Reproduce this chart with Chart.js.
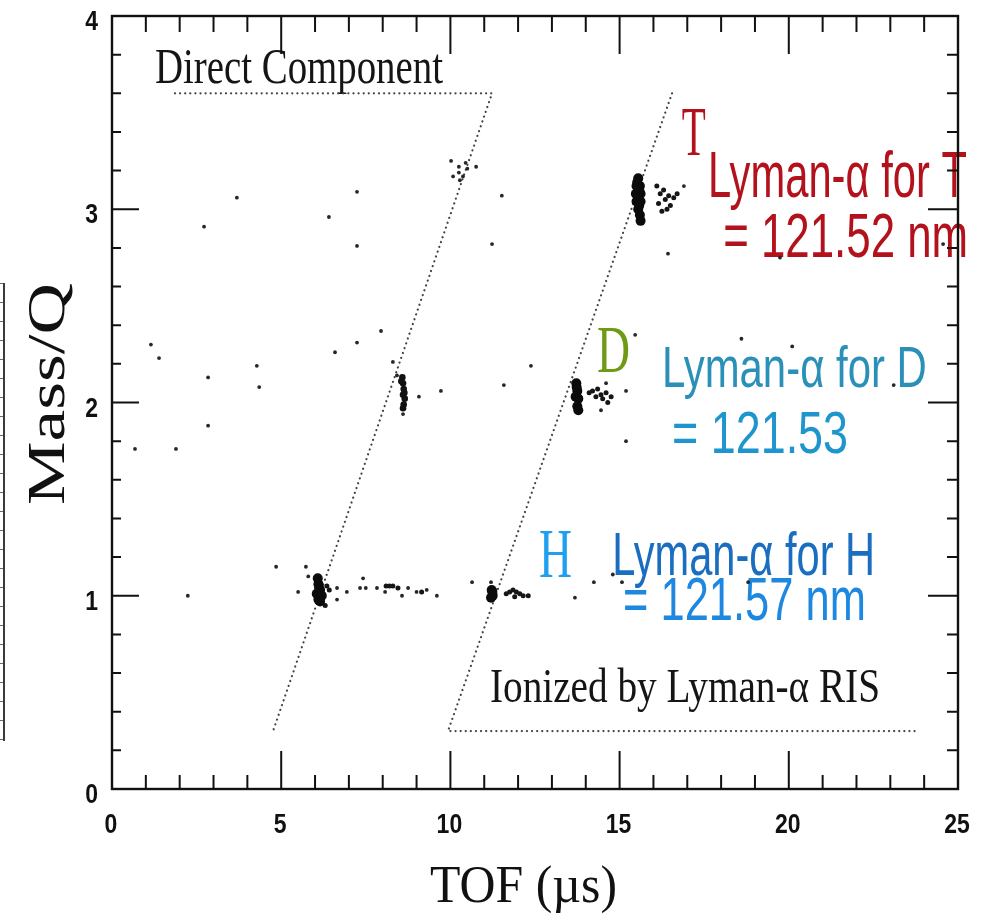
<!DOCTYPE html>
<html>
<head>
<meta charset="utf-8">
<title>TOF vs Mass/Q</title>
<script src="https://cdn.jsdelivr.net/npm/chart.js@4.4.1/dist/chart.umd.min.js"></script>
<style>
  html, body { margin: 0; padding: 0; background: #fff; }
  #wrap { position: relative; width: 990px; height: 924px; }
  canvas { display: block; }
  /* edge of the neighbouring panel */
  #edge { position: absolute; left: 0; top: 283px; width: 3px; height: 458px;
          border-right: 2px solid #3a3a3a;
          background: repeating-linear-gradient(to bottom, #666 0 1px, transparent 1px 19px); }
</style>
</head>
<body>
<div id="wrap">
  <canvas id="c" width="990" height="924"></canvas>
  <div id="edge"></div>
</div>
<script>
// ---- axes ----
const tofTicks  = [0, 5, 10, 15, 20, 25];
const massTicks = [0, 1, 2, 3, 4];

// ---- isolated single-ion hits ----
const hitTOF = [2.72, 3.69, 7.24, 6.41, 7.24, 11.23, 11.52,
  10.02, 10.25, 10.25, 10.76, 10.5, 10.08, 10.28, 10.37, 10.45,
  16.43, 19.74, 16.9, 24.56,
  1.15, 1.39, 2.84, 4.28, 4.35, 2.84, 0.68, 1.89,
  6.59, 7.24, 7.95, 8.30, 8.42, 9.07, 9.72, 8.6,
  11.58, 12.38, 15.19, 15.19, 15.46, 18.6, 20.1, 23.1, 14.45, 14.6,
  2.24, 4.85, 5.73, 5.8, 5.5, 6.65, 6.65, 6.94, 7.42, 7.33, 7.5, 7.83, 8.07, 8.57, 8.75, 9.0, 9.3, 9.6,
  10.64, 11.2, 13.68, 14.24, 14.8, 15.07, 18.8];
const hitMQ = [2.91, 3.06, 3.09, 2.96, 2.81, 2.82, 3.07,
  3.25, 3.22, 3.19, 3.22, 3.21, 3.17, 3.15, 3.17, 3.24,
  2.77, 2.75, 3.12, 2.82,
  2.30, 2.23, 2.13, 2.19, 2.08, 1.88, 1.76, 1.76,
  2.26, 2.31, 2.37, 2.21, 2.14, 2.03, 2.06, 1.94,
  2.09, 2.19, 2.06, 1.80, 2.35, 2.33, 2.29, 2.09, 1.96, 2.10,
  1.00, 1.15, 1.15, 1.10, 1.02, 0.98, 1.04, 1.02, 1.09, 1.04, 1.04, 1.04, 1.02, 1.00, 1.04, 1.02, 1.03, 1.00,
  1.07, 1.07, 0.99, 1.07, 1.11, 1.07, 1.07];

// ---- hit streaks trailing each peak ----
const tailTOF = [8.1, 8.2, 8.3, 8.45, 9.15, 6.35, 6.42, 6.3,
  11.65, 11.75, 11.85, 11.95, 12.05, 12.15, 12.3, 11.9,
  14.1, 14.2, 14.3, 14.35, 14.45, 14.5, 14.6, 14.65, 14.75,
  16.1, 16.2, 16.15, 16.3, 16.35, 16.45, 16.5, 16.6, 16.7, 16.4, 16.25];
const tailMQ = [1.05, 1.05, 1.05, 1.04, 1.02, 1.05, 1.03, 0.95,
  1.01, 1.02, 1.03, 1.02, 1.01, 1.00, 1.00, 0.995,
  2.05, 2.06, 2.03, 2.07, 2.04, 2.02, 2.05, 2.00, 2.03,
  3.12, 3.08, 3.03, 3.10, 3.05, 3.07, 3.02, 3.06, 3.08, 3.00, 2.99];

// ---- narrow D peak of the direct component ----
const streakTOF = [8.58, 8.6, 8.62, 8.6, 8.65, 8.62, 8.6, 8.55, 8.64];
const streakMQ  = [2.13, 2.10, 2.07, 2.04, 2.02, 1.99, 1.97, 2.11, 2.05];

// ---- dense peak cores (T, D, H) ----
const coreTOF = [15.55, 15.5, 15.6, 15.48, 15.62, 15.5, 15.62, 15.55, 15.6, 15.62,
  15.52, 15.58, 15.55, 15.58,
  13.72, 13.75, 13.7, 13.78, 13.75, 13.78, 13.73,
  11.22, 11.25, 11.2, 11.24,
  6.1, 6.15, 6.05, 6.2, 6.1, 6.15, 6.08, 6.12];
const coreMQ = [3.16, 3.12, 3.12, 3.08, 3.08, 3.04, 3.04, 3.00, 2.97, 2.94,
  3.14, 3.10, 3.06, 3.02,
  2.10, 2.06, 2.03, 2.02, 1.98, 1.96, 2.08,
  1.03, 1.00, 0.99, 1.02,
  1.06, 1.03, 1.01, 1.00, 0.98, 0.97, 1.09, 1.04];

// ---- region boundaries ----
const directTOF = [1.86, 11.23, 4.76];
const directMQ  = [3.6, 3.6, 0.3];
const risTOF    = [16.55, 9.93, 23.82];
const risMQ     = [3.6, 0.3, 0.3];

const pts = (xs, ys) => xs.map((x, i) => ({ x, y: ys[i] }));

// ---- text labels (anchored at left/baseline, in data units) ----
const SERIF = '"Liberation Serif", "Times New Roman", serif';
const SANS  = '"Liberation Sans", Arial, sans-serif';
const notes = [
  { text: 'Direct Component',        tof: 1.27,  mq: 3.653, w: 288, cap: 33, fam: SERIF, color: '#151515' },
  { text: 'Ionized by Lyman-\u03B1 RIS', tof: 11.17, mq: 0.45,  w: 390, cap: 31, fam: SERIF, color: '#151515' },
  { text: 'T',                        tof: 16.84, mq: 3.28,  w: 24,  cap: 45, fam: SERIF, color: '#b3121d' },
  { text: 'Lyman-\u03B1 for T',       tof: 17.61, mq: 3.063, w: 259, cap: 45, fam: SANS,  color: '#b3121d' },
  { text: '= 121.52 nm',              tof: 18.06, mq: 2.753, w: 245, cap: 43, fam: SANS,  color: '#b3121d' },
  { text: 'D',                        tof: 14.33, mq: 2.158, w: 33,  cap: 44, fam: SERIF, color: '#6f9a14' },
  { text: 'Lyman-\u03B1 for D',       tof: 16.25, mq: 2.08,  w: 265, cap: 40, fam: SANS,  color: '#2a90b8' },
  { text: '= 121.53',                 tof: 16.55, mq: 1.739, w: 176, cap: 41, fam: SANS,  color: '#1e95cc' },
  { text: 'H',                        tof: 12.62, mq: 1.097, w: 33,  cap: 45, fam: SERIF, color: '#1fa0ee' },
  { text: 'Lyman-\u03B1 for H',       tof: 14.78, mq: 1.107, w: 263, cap: 42, fam: SANS,  color: '#1b6ebf' },
  { text: '= 121.57 nm',              tof: 15.1,  mq: 0.874, w: 243, cap: 42, fam: SANS,  color: '#1e88e0' }
];

// draws text stretched to a given width and cap height
function fitText(ctx, text, x, y, w, cap, fam, weight, color, rot) {
  ctx.save();
  ctx.font = `${weight || 'normal'} 100px ${fam}`;
  const width = ctx.measureText(text).width;
  const asc = ctx.measureText('H').actualBoundingBoxAscent;
  ctx.translate(x, y);
  if (rot) ctx.rotate(rot);
  ctx.scale(w / width, cap / asc);
  ctx.fillStyle = color;
  ctx.textAlign = 'left';
  ctx.textBaseline = 'alphabetic';
  ctx.fillText(text, 0, 0);
  ctx.restore();
}

// draws text at a fixed size with a vertical stretch
function stretchText(ctx, text, x, y, size, sy, align, fam, weight, color) {
  ctx.save();
  ctx.font = `${weight} ${size}px ${fam}`;
  ctx.translate(x, y);
  ctx.scale(1, sy);
  ctx.fillStyle = color;
  ctx.textAlign = align;
  ctx.textBaseline = 'alphabetic';
  ctx.fillText(text, 0, 0);
  ctx.restore();
}

const labelsPlugin = {
  id: 'labels',
  beforeDatasetsDraw(chart) {
    const { ctx, scales: { x, y } } = chart;
    notes.forEach(n => fitText(ctx, n.text, x.getPixelForValue(n.tof), y.getPixelForValue(n.mq),
      n.w, n.cap, n.fam, 'normal', n.color));
  }
};

const framePlugin = {
  id: 'frame',
  afterDraw(chart) {
    const { ctx, chartArea: a, scales: { x, y } } = chart;
    ctx.save();
    ctx.strokeStyle = '#111';
    ctx.lineWidth = 2.4;
    ctx.strokeRect(a.left, a.top, a.right - a.left, a.bottom - a.top);
    ctx.lineWidth = 2;
    ctx.beginPath();
    // TOF ticks: minor every 1 us, major at labelled values
    for (let v = tofTicks[0]; v <= tofTicks[tofTicks.length - 1]; v += 1) {
      const px = x.getPixelForValue(v);
      const major = tofTicks.includes(v);
      ctx.moveTo(px, a.bottom); ctx.lineTo(px, a.bottom - (major ? 38 : 14));
      ctx.moveTo(px, a.top);    ctx.lineTo(px, a.top + (major ? 38 : 16));
    }
    // Mass/Q ticks: minor every 0.2, major at labelled values
    for (let k = 0; k <= massTicks[massTicks.length - 1] * 5; k++) {
      const v = k / 5;
      const py = y.getPixelForValue(v);
      const major = k % 5 === 0;
      ctx.moveTo(a.left, py);  ctx.lineTo(a.left + (major ? 27 : 9), py);
      ctx.moveTo(a.right, py); ctx.lineTo(a.right - (major ? 30 : 11), py);
    }
    ctx.stroke();
    ctx.restore();

    // tick labels
    tofTicks.forEach(v => stretchText(ctx, String(v), x.getPixelForValue(v) - 1, a.bottom + 44,
      23, 1.2, 'center', SANS, 'bold', '#111'));
    massTicks.forEach(v => stretchText(ctx, String(v), a.left - 14, y.getPixelForValue(v) + 14,
      23, 1.2, 'right', SANS, 'bold', '#111'));

    // axis titles
    const cx = (a.left + a.right) / 2;
    fitText(ctx, 'TOF (\u00B5s)', cx - 105, a.bottom + 113, 187, 35, SERIF, 'normal', '#111');
    fitText(ctx, 'Mass/Q', 64, y.getPixelForValue(1.47), 222, 35, SERIF, 'normal', '#111', -Math.PI / 2);
  }
};

const dotted = { showLine: true, pointRadius: 0, borderColor: '#444', borderWidth: 2.2,
  borderDash: [0.1, 5], borderCapStyle: 'round', fill: false, tension: 0 };

new Chart(document.getElementById('c'), {
  type: 'scatter',
  data: {
    datasets: [
      { label: 'Core', data: pts(coreTOF, coreMQ), backgroundColor: '#0b0b0b', borderWidth: 0, pointRadius: 5 },
      { label: 'Direct D peak', data: pts(streakTOF, streakMQ), backgroundColor: '#111', borderWidth: 0, pointRadius: 3.3 },
      { label: 'Streak', data: pts(tailTOF, tailMQ), backgroundColor: '#161616', borderWidth: 0, pointRadius: 2.5 },
      { label: 'Hits', data: pts(hitTOF, hitMQ), backgroundColor: '#262626', borderWidth: 0, pointRadius: 1.9 },
      Object.assign({ label: 'Direct component', data: pts(directTOF, directMQ) }, dotted),
      Object.assign({ label: 'Ionized by RIS', data: pts(risTOF, risMQ) }, dotted)
    ]
  },
  options: {
    responsive: false,
    animation: false,
    events: [],
    layout: { padding: { left: 112, top: 16, right: 32, bottom: 135 } },
    scales: {
      x: { type: 'linear', min: 0, max: 25, display: false },
      y: { type: 'linear', min: 0, max: 4, display: false }
    },
    plugins: { legend: { display: false }, tooltip: { enabled: false } }
  },
  plugins: [labelsPlugin, framePlugin]
});
</script>
</body>
</html>
